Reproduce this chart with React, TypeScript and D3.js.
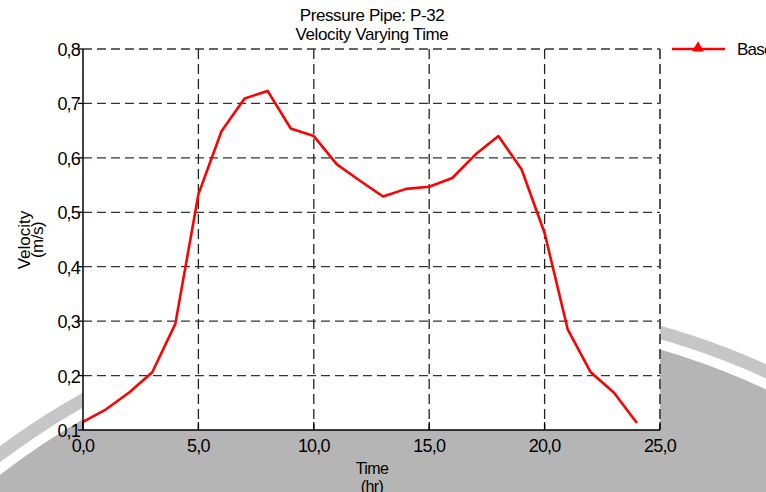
import React from "react";
import * as d3 from "d3";

const titleLines = ["Pressure Pipe: P-32", "Velocity Varying Time"];
const hours = [0, 1, 2, 3, 4, 5, 6, 7, 8, 9, 10, 11, 12, 13, 14, 15, 16, 17, 18, 19, 20, 21, 22, 23, 24];
const velocity = [
  0.115, 0.138, 0.169, 0.206, 0.295, 0.533, 0.649, 0.709, 0.723, 0.654, 0.64, 0.588, 0.558,
  0.529, 0.543, 0.547, 0.563, 0.606, 0.64, 0.579, 0.462, 0.285, 0.206, 0.169, 0.113,
];
const xTicks = [0, 5, 10, 15, 20, 25];
const xTickLabels = ["0,0", "5,0", "10,0", "15,0", "20,0", "25,0"];
const yTicks = [0.1, 0.2, 0.3, 0.4, 0.5, 0.6, 0.7, 0.8];
const yTickLabels = ["0,1", "0,2", "0,3", "0,4", "0,5", "0,6", "0,7", "0,8"];
const seriesName = "Base";

const W = 766;
const H = 492;
const left = 83;
const right = 660;
const top = 49;
const bottom = 430;
const FONT = "'Liberation Sans', Arial, sans-serif";

export default function App() {
  const x = d3.scaleLinear().domain([0, 25]).range([left, right]);
  const y = d3.scaleLinear().domain([0.1, 0.8]).range([bottom, top]);
  const line = d3
    .line<number>()
    .x((_, i) => x(hours[i]))
    .y((d) => y(d));

  // decorative background band (circular watermark logo)
  const cx = 453;
  const cy = 1060;

  const legendY = 49;

  return (
    <svg
      width={W}
      height={H}
      style={{ position: "absolute", left: 0, top: 0, display: "block", background: "#fff" }}
      fontFamily={FONT}
    >
      <rect x={0} y={0} width={W} height={H} fill="#fff" />
      <g aria-hidden="true">
        <circle cx={cx} cy={cy} r={763} fill="#c6c6c6" />
        <circle cx={cx} cy={cy} r={750} fill="#ffffff" />
        <circle cx={cx} cy={cy} r={740} fill="#b5b5b5" />
      </g>

      {/* plot background */}
      <rect x={left} y={top} width={right - left} height={bottom - top} fill="#fff" />

      {/* horizontal grid */}
      {yTicks.slice(1).map((t) => (
        <line
          key={`h${t}`}
          x1={left}
          x2={right}
          y1={y(t)}
          y2={y(t)}
          stroke="#333"
          strokeWidth={1.3}
          strokeDasharray="9,5"
        />
      ))}
      {/* vertical grid */}
      {xTicks.slice(1).map((t) => (
        <line
          key={`v${t}`}
          x1={x(t)}
          x2={x(t)}
          y1={top}
          y2={bottom}
          stroke={t === 25 ? "#555" : "#222"}
          strokeWidth={t === 25 ? 2 : 1.3}
          strokeDasharray="10,5"
        />
      ))}

      {/* series */}
      <path d={line(velocity) || ""} fill="none" stroke="#ff0000" strokeWidth={2.6} strokeLinejoin="round" />

      {/* axes */}
      <line x1={left} x2={left} y1={top} y2={bottom} stroke="#000" strokeWidth={1.5} />
      <line x1={left} x2={right} y1={bottom} y2={bottom} stroke="#000" strokeWidth={1.5} />
      {xTicks.map((t) => (
        <line key={`xt${t}`} x1={x(t)} x2={x(t)} y1={bottom} y2={bottom - 8} stroke="#000" strokeWidth={1.3} />
      ))}
      {yTicks.map((t) => (
        <line key={`yt${t}`} x1={left - 5} x2={left} y1={y(t)} y2={y(t)} stroke="#000" strokeWidth={1.3} />
      ))}

      {/* tick labels */}
      {xTicks.map((t, i) => (
        <text key={`xl${t}`} x={x(t)} y={452} fontSize={18} textAnchor="middle" letterSpacing={-0.8} fill="#000">
          {xTickLabels[i]}
        </text>
      ))}
      {yTicks.map((t, i) => (
        <text key={`yl${t}`} x={80} y={y(t) + 7} fontSize={18} textAnchor="end" letterSpacing={-0.8} fill="#000">
          {yTickLabels[i]}
        </text>
      ))}

      {/* title */}
      <text x={372} y={21} fontSize={17} textAnchor="middle" letterSpacing={-0.4} fill="#000">
        {titleLines[0]}
      </text>
      <text x={372} y={40} fontSize={17} textAnchor="middle" letterSpacing={-0.4} fill="#000">
        {titleLines[1]}
      </text>

      {/* axis labels */}
      <text transform="translate(30,240) rotate(-90)" fontSize={17} textAnchor="middle" fill="#000">
        Velocity
      </text>
      <text transform="translate(43,240) rotate(-90)" fontSize={17} textAnchor="middle" letterSpacing={-0.5} fill="#000">
        (m/s)
      </text>
      <text x={372} y={474} fontSize={16} textAnchor="middle" letterSpacing={-0.6} fill="#000">
        Time
      </text>
      <text x={372} y={492} fontSize={16} textAnchor="middle" letterSpacing={-0.6} fill="#000">
        (hr)
      </text>

      {/* legend */}
      <line x1={672} x2={725} y1={legendY} y2={legendY} stroke="#ff0000" strokeWidth={2.6} />
      <path
        d={d3.symbol(d3.symbolTriangle, 60)() || ""}
        transform={`translate(698,${legendY - 1})`}
        fill="#ff0000"
      />
      <text x={737} y={legendY + 6} fontSize={17} letterSpacing={-0.8} fill="#000">
        {seriesName}
      </text>
    </svg>
  );
}
